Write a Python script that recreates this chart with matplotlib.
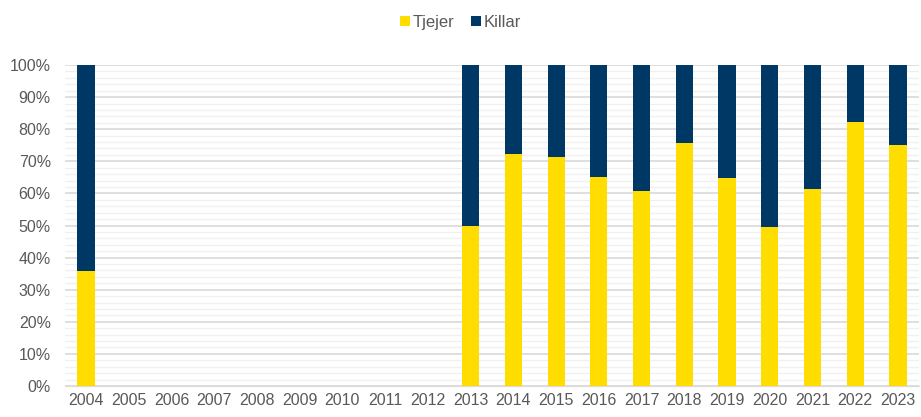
import numpy as np
import matplotlib
matplotlib.use("Agg")
import matplotlib.pyplot as plt
from matplotlib.ticker import MultipleLocator, PercentFormatter

years = [str(y) for y in range(2004, 2024)]
# andel tjejer (NaN = inga data)
tjejer = [0.358, np.nan, np.nan, np.nan, np.nan, np.nan, np.nan, np.nan, np.nan,
          0.500, 0.724, 0.713, 0.652, 0.606, 0.757, 0.647, 0.495, 0.614, 0.822, 0.750]
killar = [1 - t if not np.isnan(t) else np.nan for t in tjejer]

plt.rcParams['font.family'] = ['Liberation Sans', 'DejaVu Sans']
text_color = "#595959"

fig = plt.figure(figsize=(9.21, 4.17), dpi=100)
ax = fig.add_axes([0.0702, 0.0743, 0.928, 0.7698])

x = np.arange(len(years))
ax.bar(x, tjejer, width=0.4, color="#FFDD00", label="Tjejer", zorder=3)
ax.bar(x, killar, width=0.4, bottom=tjejer, color="#003865", label="Killar", zorder=3)

ax.set_xlim(-0.5, len(years) - 0.5)
ax.set_ylim(0, 1)
ax.set_xticks(x)
ax.set_xticklabels(years)
ax.yaxis.set_major_locator(MultipleLocator(0.1))
ax.yaxis.set_minor_locator(MultipleLocator(0.02))
ax.yaxis.set_major_formatter(PercentFormatter(1.0, decimals=0))
ax.grid(axis="y", which="major", color="#d9d9d9", linewidth=1.2, zorder=0)
ax.grid(axis="y", which="minor", color="#f0f0f0", linewidth=1.0, zorder=0)
ax.tick_params(axis="both", which="both", length=0, labelsize=11.5, colors=text_color)
ax.tick_params(axis="x", pad=5)
ax.tick_params(axis="y", pad=10)
for side in ["top", "right", "left"]:
    ax.spines[side].set_visible(False)
ax.spines["bottom"].set_color("#d9d9d9")
ax.set_axisbelow(True)

fig.legend(loc="upper center", bbox_to_anchor=(0.5, 1.0), ncol=2, frameon=False,
           fontsize=12, handlelength=0.6, handleheight=0.6, handletextpad=0.15,
           columnspacing=1.0, labelcolor=text_color)

fig.savefig("out.png", dpi=100)
